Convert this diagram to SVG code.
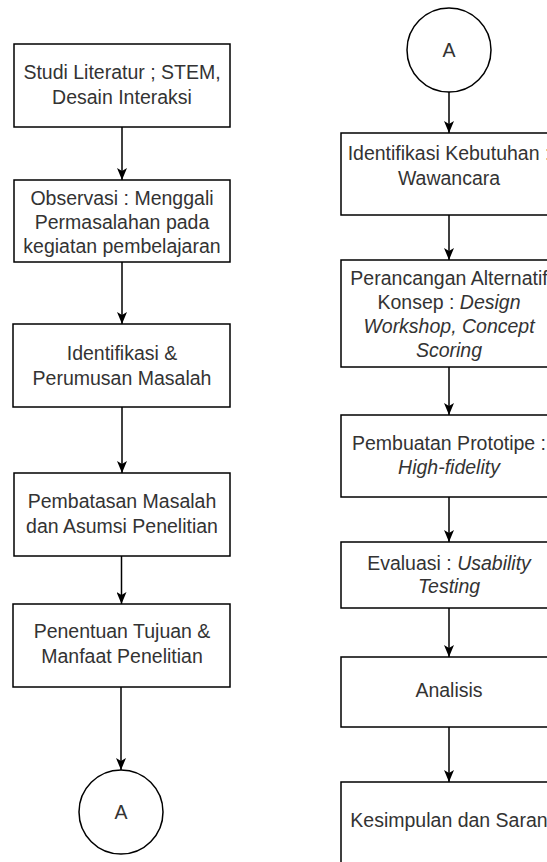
<svg xmlns="http://www.w3.org/2000/svg" width="547" height="862" viewBox="0 0 547 862">
<style>
.box{fill:#fff;stroke:#000;stroke-width:1.5}
.t{font-family:"Liberation Sans",Arial,sans-serif;font-size:19.5px;fill:#333;text-anchor:middle}
.i{font-style:italic}
.c{stroke:#000;stroke-width:1.5;fill:none;marker-end:url(#ah)}
</style>
<defs>
<marker id="ah" viewBox="0 0 12 10" refX="12" refY="5" markerWidth="12" markerHeight="10" markerUnits="userSpaceOnUse" orient="auto">
<path d="M0,0 L12,5 L0,10 L3,5 Z" fill="#000"/>
</marker>
</defs>
<rect width="547" height="862" fill="#fff"/>
<g id="connectors">
<path class="c" d="M122,127 V180"/>
<path class="c" d="M122,262 V324"/>
<path class="c" d="M122,407 V473"/>
<path class="c" d="M121.5,556 V604"/>
<path class="c" d="M121,687 V770"/>
<path class="c" d="M449,92 V133"/>
<path class="c" d="M449,215 V260"/>
<path class="c" d="M449,367 V415"/>
<path class="c" d="M449,497 V542"/>
<path class="c" d="M449,608 V657"/>
<path class="c" d="M449,727 V782"/>
</g>
<g id="n1"><rect class="box" x="14" y="44" width="216" height="83"/>
<text class="t" x="122" y="79">Studi Literatur ; STEM,</text>
<text class="t" x="122" y="104">Desain Interaksi</text></g>
<g id="n2"><rect class="box" x="14" y="180" width="216" height="82"/>
<text class="t" x="122" y="205">Observasi : Menggali</text>
<text class="t" x="122" y="229">Permasalahan pada</text>
<text class="t" x="122" y="253">kegiatan pembelajaran</text></g>
<g id="n3"><rect class="box" x="13" y="324" width="217" height="83"/>
<text class="t" x="122" y="360">Identifikasi &amp;</text>
<text class="t" x="122" y="385">Perumusan Masalah</text></g>
<g id="n4"><rect class="box" x="14" y="473" width="216" height="83"/>
<text class="t" x="122" y="508">Pembatasan Masalah</text>
<text class="t" x="122" y="533">dan Asumsi Penelitian</text></g>
<g id="n5"><rect class="box" x="13" y="604" width="217" height="83"/>
<text class="t" x="122" y="638">Penentuan Tujuan &amp;</text>
<text class="t" x="122" y="663">Manfaat Penelitian</text></g>
<g id="n6"><circle class="box" cx="121" cy="812" r="42"/>
<text class="t" x="121" y="819">A</text></g>
<g id="n7"><circle class="box" cx="449" cy="50" r="42"/>
<text class="t" x="449" y="57">A</text></g>
<g id="n8"><rect class="box" x="341" y="133" width="216" height="82"/>
<text class="t" x="449" y="160">Identifikasi Kebutuhan :</text>
<text class="t" x="449" y="185">Wawancara</text></g>
<g id="n9"><rect class="box" x="341" y="260" width="216" height="107"/>
<text class="t" x="449" y="285">Perancangan Alternatif</text>
<text class="t" x="449" y="309">Konsep : <tspan class="i">Design</tspan></text>
<text class="t i" x="449" y="333">Workshop, Concept</text>
<text class="t i" x="449" y="357">Scoring</text></g>
<g id="n10"><rect class="box" x="341" y="415" width="216" height="82"/>
<text class="t" x="449" y="450">Pembuatan Prototipe :</text>
<text class="t i" x="449" y="474">High-fidelity</text></g>
<g id="n11"><rect class="box" x="341" y="542" width="216" height="66"/>
<text class="t" x="449" y="570">Evaluasi : <tspan class="i">Usability</tspan></text>
<text class="t i" x="449" y="593">Testing</text></g>
<g id="n12"><rect class="box" x="341" y="657" width="216" height="70"/>
<text class="t" x="449" y="697">Analisis</text></g>
<g id="n13"><rect class="box" x="341" y="782" width="216" height="90"/>
<text class="t" x="449" y="827">Kesimpulan dan Saran</text></g>
</svg>
